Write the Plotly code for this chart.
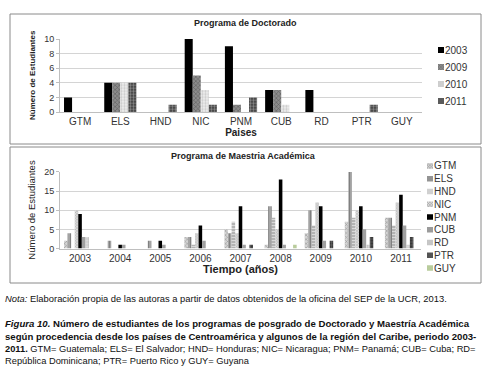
import plotly.graph_objects as go

W, H = 493, 382

# ---------------- data ----------------
countries = ["GTM", "ELS", "HND", "NIC", "PNM", "CUB", "RD", "PTR", "GUY"]
doc_years = ["2003", "2009", "2010", "2011"]
doc_2003 = [2, 4, 0, 10, 9, 3, 3, 0, 0]
doc_2009 = [0, 4, 0, 5, 1, 3, 0, 0, 0]
doc_2010 = [0, 4, 0, 3, 0, 1, 0, 0, 0]
doc_2011 = [0, 4, 1, 1, 2, 0, 0, 1, 0]
doc_values = [doc_2003, doc_2009, doc_2010, doc_2011]

years = ["2003", "2004", "2005", "2006", "2007", "2008", "2009", "2010", "2011"]
m_GTM = [2, 0, 0, 3, 5, 1, 4, 7, 8]
m_ELS = [4, 2, 2, 3, 4, 11, 10, 20, 8]
m_HND = [0, 0, 0, 1, 7, 8, 6, 8, 6]
m_NIC = [10, 0, 0, 4, 4, 5, 12, 10, 12]
m_PNM = [9, 1, 2, 6, 11, 18, 11, 11, 14]
m_CUB = [3, 1, 1, 2, 1, 1, 2, 5, 6]
m_RD = [3, 0, 0, 0, 0, 0, 0, 1, 1]
m_PTR = [0, 0, 0, 0, 1, 0, 2, 3, 3]
m_GUY = [0, 0, 0, 0, 0, 1, 0, 0, 0]
mae_values = [m_GTM, m_ELS, m_HND, m_NIC, m_PNM, m_CUB, m_RD, m_PTR, m_GUY]

doc_ticks = [0, 2, 4, 6, 8, 10]
mae_ticks = [0, 5, 10, 15, 20]

# ---------------- styles ----------------
doc_style = [
    dict(bg="#000000", fg="#000000", shape="", size=4, sol=0.3),
    dict(bg="#8c8c8c", fg="#2e2e2e", shape="x", size=3, sol=0.35),
    dict(bg="#eeeeee", fg="#a8a8a8", shape=".", size=3, sol=0.45),
    dict(bg="#333333", fg="#e4e4e4", shape=".", size=3, sol=0.5),
]
mae_style = [
    dict(bg="#d4d4d4", fg="#5e5e5e", shape="x", size=3, sol=0.35),
    dict(bg="#a6a6a6", fg="#5a5a5a", shape="|", size=3, sol=0.4),
    dict(bg="#f2f2f2", fg="#262626", shape="-", size=3, sol=0.5),
    dict(bg="#dcdcdc", fg="#707070", shape="x", size=2, sol=0.35),
    dict(bg="#000000", fg="#000000", shape="", size=4, sol=0.3),
    dict(bg="#b0b0b0", fg="#666666", shape="-", size=2, sol=0.45),
    dict(bg="#e4e4e4", fg="#9a9a9a", shape=".", size=3, sol=0.5),
    dict(bg="#2a2a2a", fg="#a0a0a0", shape=".", size=3, sol=0.5),
    dict(bg="#b9cc9c", fg="#b9cc9c", shape="", size=4, sol=0.3),
]

def pat(s):
    return dict(shape=s["shape"], fgcolor=s["fg"], bgcolor=s["bg"],
                size=s["size"], solidity=s["sol"], fillmode="overlay")

def px_y(y):
    return (H - y) / H

def px_x(x):
    return x / W

fig = go.Figure()

for name, vals, s in zip(doc_years, doc_values, doc_style):
    fig.add_trace(go.Bar(x=countries, y=vals, name=name, xaxis="x", yaxis="y",
                         marker=dict(color=s["bg"], pattern=pat(s), line=dict(width=0)),
                         showlegend=False))

for name, vals, s in zip(countries, mae_values, mae_style):
    fig.add_trace(go.Bar(x=years, y=vals, name=name, xaxis="x2", yaxis="y2",
                         marker=dict(color=s["bg"], pattern=pat(s), line=dict(width=0)),
                         showlegend=False))

# legend swatches (drawn as small bars on their own axes)
doc_swatch = [1] * len(doc_years)
fig.add_trace(go.Bar(
    y=doc_years, x=doc_swatch, orientation="h", xaxis="x3", yaxis="y3", width=0.36,
    marker=dict(color=[s["bg"] for s in doc_style],
                pattern=dict(shape=[s["shape"] for s in doc_style],
                             fgcolor=[s["fg"] for s in doc_style],
                             bgcolor=[s["bg"] for s in doc_style],
                             size=2, solidity=0.4, fillmode="overlay"),
                line=dict(width=0)),
    showlegend=False, hoverinfo="skip"))

mae_swatch = [1] * len(countries)
fig.add_trace(go.Bar(
    y=countries, x=mae_swatch, orientation="h", xaxis="x4", yaxis="y4", width=0.42,
    marker=dict(color=[s["bg"] for s in mae_style],
                pattern=dict(shape=[s["shape"] for s in mae_style],
                             fgcolor=[s["fg"] for s in mae_style],
                             bgcolor=[s["bg"] for s in mae_style],
                             size=2, solidity=0.4, fillmode="overlay"),
                line=dict(width=0)),
    showlegend=False, hoverinfo="skip"))

FONT = "Liberation Sans, Arial, sans-serif"
TXT = "#333333"
GRID = "#d4d4d4"

common_x = dict(type="category", showgrid=False, ticks="", showline=True,
                linecolor="#bfbfbf", linewidth=1, tickfont=dict(family=FONT, size=10, color=TXT),
                automargin=False, zeroline=False)
common_y = dict(showgrid=True, gridcolor=GRID, gridwidth=1, showline=True, linecolor="#bfbfbf",
                ticks="outside", ticklen=3, tickcolor="#bfbfbf", zeroline=False, automargin=False,
                tickfont=dict(family=FONT, size=9, color=TXT))

NOTA = 9.4
CAPB = 9.6
CAP = 9.3

fig.update_layout(
    width=W, height=H, autosize=False,
    margin=dict(l=0, r=0, t=0, b=0),
    paper_bgcolor="white", plot_bgcolor="white",
    barmode="group", bargap=0.2, bargroupgap=0.0,
    xaxis=dict(domain=[px_x(60), px_x(422)], anchor="y",
               title=dict(text="<b>Paises</b>", standoff=1,
                          font=dict(family=FONT, size=10, color="#222222")),
               **common_x),
    yaxis=dict(domain=[px_y(112), px_y(38.7)], anchor="x", range=[0, 10.05],
               tickvals=doc_ticks,
               title=dict(text="<b>Número de Estudiantes</b>", standoff=7,
                          font=dict(family=FONT, size=8, color="#222222")),
               **common_y),
    xaxis2=dict(domain=[px_x(60), px_x(421)], anchor="y2",
                title=dict(text="<b>Tiempo (años)</b>", standoff=2,
                           font=dict(family=FONT, size=11, color="#222222")),
                **common_x),
    yaxis2=dict(domain=[px_y(248.5), px_y(171.5)], anchor="x2", range=[0, 20.1],
                tickvals=mae_ticks,
                title=dict(text="Número de Estudiantes", standoff=6,
                           font=dict(family=FONT, size=9.5, color="#222222")),
                **common_y),
    xaxis3=dict(domain=[px_x(438), px_x(444)], anchor="y3", range=[0, 1], visible=False),
    yaxis3=dict(domain=[px_y(109.5), px_y(41.5)], anchor="x3", type="category",
                autorange="reversed", side="right", showgrid=False, showline=False,
                ticks="", zeroline=False, automargin=False,
                tickfont=dict(family=FONT, size=10, color=TXT)),
    xaxis4=dict(domain=[px_x(427), px_x(433)], anchor="y4", range=[0, 1], visible=False),
    yaxis4=dict(domain=[px_y(274.4), px_y(159.6)], anchor="x4", type="category",
                autorange="reversed", side="right", showgrid=False, showline=False,
                ticks="", zeroline=False, automargin=False,
                tickfont=dict(family=FONT, size=10, color=TXT)),
    shapes=[
        dict(type="rect", xref="paper", yref="paper", x0=px_x(10), x1=px_x(481),
             y0=px_y(144), y1=px_y(14), line=dict(color="#8a8a8a", width=1)),
        dict(type="rect", xref="paper", yref="paper", x0=px_x(10), x1=px_x(481),
             y0=px_y(283), y1=px_y(147), line=dict(color="#8a8a8a", width=1)),
    ],
    annotations=[
        dict(text="<b>Programa de Doctorado</b>", x=px_x(245), y=px_y(23), xref="paper",
             yref="paper", showarrow=False, xanchor="center", yanchor="middle",
             font=dict(family=FONT, size=9, color="#222222")),
        dict(text="<b>Programa de Maestria Académica</b>", x=px_x(243), y=px_y(156),
             xref="paper", yref="paper", showarrow=False, xanchor="center", yanchor="middle",
             font=dict(family=FONT, size=9, color="#222222")),
        dict(text="<i>Nota:</i> Elaboración propia de las autoras a partir de datos obtenidos de la oficina del SEP de la UCR, 2013.",
             x=px_x(3), y=px_y(298), xref="paper", yref="paper", showarrow=False,
             xanchor="left", yanchor="middle", font=dict(family=FONT, size=NOTA, color="#111111")),
        dict(text="<b><i>Figura 10.</i> Número de estudiantes de los programas de posgrado de Doctorado y Maestría Académica</b>",
             x=px_x(3), y=px_y(323), xref="paper", yref="paper", showarrow=False,
             xanchor="left", yanchor="middle", font=dict(family=FONT, size=CAPB, color="#111111")),
        dict(text="<b>según procedencia desde los países de Centroamérica y algunos de la región del Caribe, periodo 2003-</b>",
             x=px_x(3), y=px_y(336), xref="paper", yref="paper", showarrow=False,
             xanchor="left", yanchor="middle", font=dict(family=FONT, size=CAPB, color="#111111")),
        dict(text="<b>2011.</b> GTM= Guatemala; ELS= El Salvador; HND= Honduras; NIC= Nicaragua; PNM= Panamá; CUB= Cuba; RD=",
             x=px_x(3), y=px_y(348.5), xref="paper", yref="paper", showarrow=False,
             xanchor="left", yanchor="middle", font=dict(family=FONT, size=CAP, color="#111111")),
        dict(text="República Dominicana; PTR= Puerto Rico y GUY= Guyana",
             x=px_x(3), y=px_y(361), xref="paper", yref="paper", showarrow=False,
             xanchor="left", yanchor="middle", font=dict(family=FONT, size=CAP, color="#111111")),
    ],
)

fig.write_html("out.html", config={"displayModeBar": False},
               post_script="document.body.style.margin='0';document.body.style.overflow='hidden';")
